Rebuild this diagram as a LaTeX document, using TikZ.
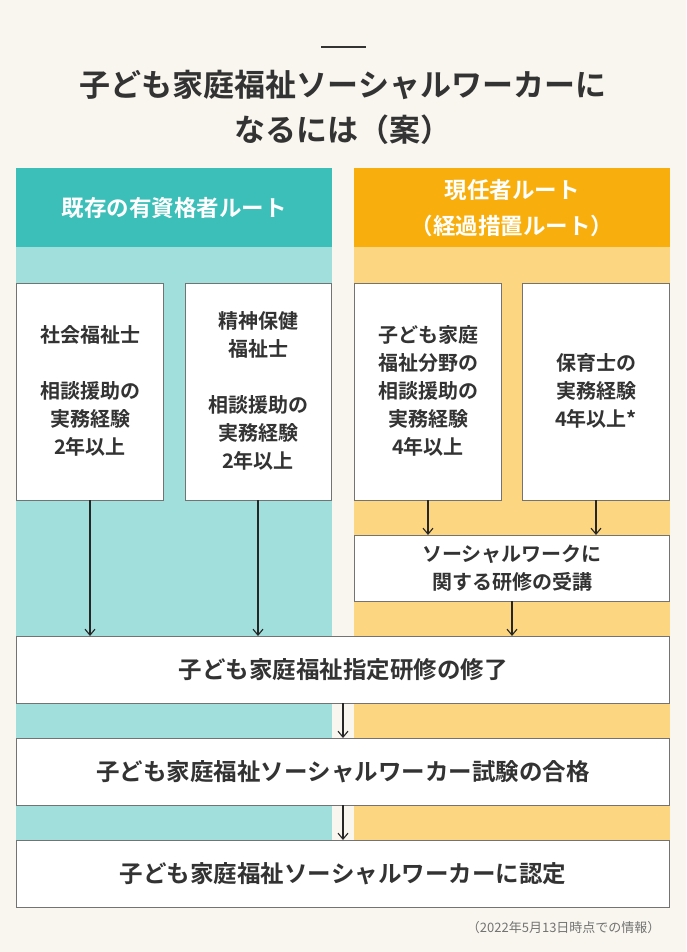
\documentclass[tikz,border=0pt]{standalone}
\usepackage{fontspec}
\usetikzlibrary{arrows.meta}
\setmainfont{Noto Sans CJK JP}[BoldFont={Noto Sans CJK JP Bold}]
\newfontfamily\jpb{Noto Sans CJK JP Bold}
\definecolor{bg}{HTML}{F9F6EF}
\definecolor{teal}{HTML}{3BBFB8}
\definecolor{lteal}{HTML}{A0DFDC}
\definecolor{org}{HTML}{F8AF0E}
\definecolor{lorg}{HTML}{FCD680}
\definecolor{txt}{HTML}{333333}
\begin{document}
\begin{tikzpicture}[x=1pt,y=-1pt,
  wbox/.style={draw=black!55,line width=0.8pt,fill=white},
  btxt/.style={font=\jpb\fontsize{20}{28}\selectfont,text=txt,align=center},
  bigtxt/.style={font=\jpb\fontsize{23.5}{28}\selectfont,text=txt},
  arr/.style={-{Straight Barb[length=6pt,width=10pt]},line width=1.1pt,black!85}]
\useasboundingbox (0,0) rectangle (686,952);
\fill[bg] (0,0) rectangle (686,952);
\draw[line width=1.5pt,txt] (321,47) -- (366,47);
\node[font=\jpb\fontsize{31}{45}\selectfont,text=txt,align=center] (title) at (343,107) {子ども家庭福祉ソーシャルワーカーに\\なるには（案）};
\fill[lteal] (16,247) rectangle (332,840);
\fill[lorg] (354,247) rectangle (670,840);
\fill[teal] (16,168) rectangle (332,247);
\fill[org] (354,168) rectangle (670,247);
\node[font=\jpb\fontsize{22.5}{36}\selectfont,text=white] (hl) at (174,208) {既存の有資格者ルート};
\node[font=\jpb\fontsize{22.5}{36}\selectfont,text=white,align=center] (hr) at (512,208) {現任者ルート\\（経過措置ルート）};
\draw[wbox] (16,283) rectangle (163,500);
\node[btxt] (b1) at (90,391) {社会福祉士\\[28pt]相談援助の\\実務経験\\2年以上};
\draw[wbox] (185,283) rectangle (331,500);
\node[btxt] (b2) at (258,391) {精神保健\\福祉士\\[28pt]相談援助の\\実務経験\\2年以上};
\draw[wbox] (354,283) rectangle (501,500);
\node[btxt] (b3) at (428,391) {子ども家庭\\福祉分野の\\相談援助の\\実務経験\\4年以上};
\draw[wbox] (522,283) rectangle (669,500);
\node[btxt] (b4) at (596,391) {保育士の\\実務経験\\4年以上*};
\draw[wbox] (354,535) rectangle (669,601);
\node[btxt] (b5) at (512,568) {ソーシャルワークに\\関する研修の受講};
\draw[wbox] (16,636) rectangle (669,703);
\node[bigtxt] (b6) at (343,670) {子ども家庭福祉指定研修の修了};
\draw[wbox] (16,738) rectangle (669,805);
\node[bigtxt] (b7) at (343,772) {子ども家庭福祉ソーシャルワーカー試験の合格};
\draw[wbox] (16,840) rectangle (669,907);
\node[bigtxt] (b8) at (343,874) {子ども家庭福祉ソーシャルワーカーに認定};
\coordinate (a1s) at (90,500); \coordinate (a1e) at (90,636);
\coordinate (a2s) at (258,500); \coordinate (a2e) at (258,636);
\coordinate (a3s) at (428,500); \coordinate (a3e) at (428,535);
\coordinate (a4s) at (596,500); \coordinate (a4e) at (596,535);
\coordinate (a5s) at (512,601); \coordinate (a5e) at (512,636);
\coordinate (a6s) at (343,703); \coordinate (a6e) at (343,738);
\coordinate (a7s) at (343,805); \coordinate (a7e) at (343,840);
\foreach \i in {1,...,7} \draw[arr] (a\i s) -- (a\i e);
\node[anchor=east,font=\fontsize{13}{15}\selectfont,text=black!55] (foot) at (664,928) {（2022年5月13日時点での情報）};
\end{tikzpicture}
\end{document}
